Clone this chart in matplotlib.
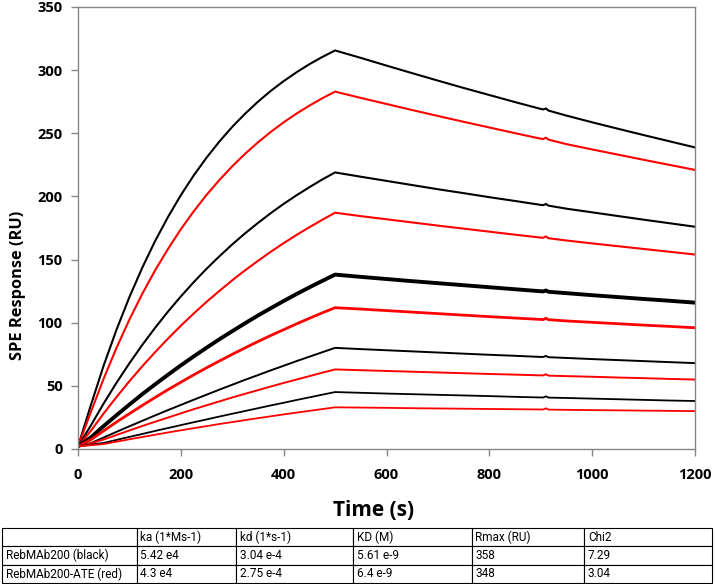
import matplotlib
matplotlib.use("Agg")
import matplotlib.pyplot as plt

# ---------------- data ----------------
time_s = [0, 25, 50, 75, 100, 125, 150, 175, 200, 225, 250, 275, 300, 325, 350, 375, 400, 425, 450, 475, 500,
          550, 600, 650, 700, 750, 800, 850, 900, 905, 910, 915, 950, 1000, 1050, 1100, 1150, 1200]

black_1 = [2, 34.7, 66.2, 94.6, 120.3, 143.6, 164.7, 183.7, 201.0, 216.6, 230.7, 243.5, 255.1, 265.5, 275.0, 283.6, 291.3, 298.3, 304.7, 310.4, 315.6,
           309.7, 303.6, 297.6, 291.7, 285.9, 280.3, 274.7, 269.3, 268.9, 269.7, 268.0, 264.0, 258.7, 253.6, 248.6, 243.7, 238.8]
black_2 = [2, 18.6, 36.1, 52.5, 67.9, 82.4, 96.0, 108.8, 120.8, 132.1, 142.7, 152.6, 162.0, 170.8, 179.0, 186.8, 194.1, 200.9, 207.3, 213.4, 219.0,
           215.6, 212.3, 209.0, 205.7, 202.6, 199.4, 196.4, 193.3, 193.1, 194.0, 192.7, 190.3, 187.4, 184.5, 181.6, 178.8, 176.0]
black_3 = [2, 9.2, 18.2, 26.8, 35.2, 43.4, 51.2, 58.8, 66.2, 73.3, 80.2, 86.9, 93.3, 99.6, 105.7, 111.5, 117.2, 122.7, 128.0, 133.1, 138.1,
           136.3, 134.6, 132.9, 131.3, 129.7, 128.1, 126.5, 124.9, 124.8, 125.5, 124.5, 123.4, 121.8, 120.3, 118.8, 117.4, 115.9]
black_4 = [2, 4.6, 9.1, 13.6, 18.0, 22.3, 26.6, 30.8, 34.9, 39.0, 43.0, 47.0, 50.9, 54.8, 58.5, 62.3, 65.9, 69.6, 73.1, 76.6, 80.1,
           79.1, 78.2, 77.3, 76.4, 75.5, 74.6, 73.8, 72.9, 72.9, 73.7, 72.7, 72.1, 71.2, 70.4, 69.6, 68.8, 68.0]
black_5 = [2, 3.5, 4.8, 7.2, 9.6, 11.9, 14.3, 16.6, 18.9, 21.2, 23.4, 25.7, 27.9, 30.1, 32.3, 34.5, 36.6, 38.8, 40.9, 43.0, 45.1,
           44.5, 43.9, 43.4, 42.9, 42.4, 41.9, 41.3, 40.8, 40.8, 41.7, 40.7, 40.4, 39.9, 39.4, 38.9, 38.4, 38.0]

red_1 = [2, 29.2, 55.8, 80.2, 102.5, 122.9, 141.5, 158.4, 174.0, 188.2, 201.2, 213.0, 223.9, 233.8, 242.8, 251.1, 258.7, 265.6, 271.9, 277.7, 283.0,
         278.0, 273.2, 268.4, 263.7, 259.1, 254.6, 250.1, 245.7, 245.5, 246.5, 245.0, 241.4, 237.2, 233.1, 229.0, 225.0, 221.0]
red_2 = [2, 14.4, 28.2, 41.2, 53.7, 65.5, 76.7, 87.4, 97.6, 107.3, 116.5, 125.2, 133.6, 141.5, 149.0, 156.2, 163.0, 169.5, 175.6, 181.5, 187.1,
         184.4, 181.9, 179.4, 176.9, 174.5, 172.1, 169.7, 167.4, 167.3, 168.3, 166.9, 165.1, 162.8, 160.6, 158.4, 156.2, 154.0]
red_3 = [2, 7.3, 14.4, 21.4, 28.0, 34.5, 40.8, 47.0, 52.9, 58.7, 64.3, 69.7, 75.0, 80.1, 85.1, 89.9, 94.5, 99.1, 103.5, 107.8, 111.9,
         110.8, 109.6, 108.4, 107.2, 106.0, 104.8, 103.7, 102.6, 102.5, 103.5, 102.4, 101.4, 100.3, 99.2, 98.1, 97.1, 96.0]
red_4 = [2, 4.5, 7.5, 11.1, 14.7, 18.2, 21.6, 24.9, 28.2, 31.5, 34.6, 37.7, 40.8, 43.7, 46.6, 49.5, 52.3, 55.0, 57.7, 60.4, 63.0,
         62.4, 61.8, 61.2, 60.6, 60.0, 59.4, 58.9, 58.3, 58.3, 59.2, 58.1, 57.7, 57.2, 56.6, 56.1, 55.5, 55.0]
red_5 = [2, 3.0, 3.9, 5.8, 7.7, 9.5, 11.3, 13.1, 14.8, 16.5, 18.1, 19.8, 21.3, 22.9, 24.4, 25.9, 27.4, 28.8, 30.2, 31.6, 33.0,
         32.8, 32.6, 32.3, 32.1, 31.9, 31.7, 31.5, 31.3, 31.3, 32.2, 31.2, 31.0, 30.8, 30.6, 30.4, 30.2, 30.0]

black_curves = [black_1, black_2, black_3, black_4, black_5]
red_curves = [red_1, red_2, red_3, red_4, red_5]

x_ticks = [0, 200, 400, 600, 800, 1000, 1200]
y_ticks = [0, 50, 100, 150, 200, 250, 300, 350]

table_header = ["", "ka (1*Ms-1)", "kd (1*s-1)", "KD (M)", "Rmax (RU)", "Chi2"]
table_row_black = ["RebMAb200 (black)", "5.42 e4", "3.04 e-4", "5.61 e-9", "358", "7.29"]
table_row_red = ["RebMAb200-ATE (red)", "4.3 e4", "2.75 e-4", "6.4 e-9", "348", "3.04"]

# ---------------- figure ----------------
W, H = 715, 584
fig = plt.figure(figsize=(W / 100, H / 100), dpi=100)
ax = fig.add_axes([78 / W, 1 - 449 / H, (695 - 78) / W, (449 - 7) / H])

black_widths = [1.5, 1.5, 2.8, 1.4, 1.3]
red_widths = [1.5, 1.5, 2.0, 1.4, 1.3]
for i in range(5):
    ax.plot(time_s, black_curves[i], color="#000000", lw=black_widths[i], solid_joinstyle="round")
    ax.plot(time_s, red_curves[i], color="#ff0000", lw=red_widths[i], solid_joinstyle="round")

ax.set_xlim(0, 1200)
ax.set_ylim(0, 350)
ax.set_xticks(x_ticks)
ax.set_yticks(y_ticks)

tick_font = dict(family="Open Sans", weight="bold", size=10.5)
ax.set_xticklabels([str(v) for v in x_ticks], fontdict=tick_font)
ax.set_yticklabels([str(v) for v in y_ticks], fontdict=tick_font)

grey = "#868686"
for s in ax.spines.values():
    s.set_color(grey)
    s.set_linewidth(1.0)
ax.tick_params(axis="both", direction="out", length=5, width=1.0, color=grey, pad=6)
ax.tick_params(axis="x", pad=9)

fig.text(18.5 / W, 1 - 285.5 / H, "SPE Response (RU)", family="Open Sans", weight="bold",
         size=11.8, rotation=90, ha="center", va="center")
fig.text(374 / W, 1 - 511 / H, "Time (s)", family="Open Sans", weight="bold",
         size=15, ha="center", va="center")

# ---------------- table ----------------
tx0, tx1 = 2, 712
ty0, ty1 = 528, 583
tab_ax = fig.add_axes([tx0 / W, 1 - ty1 / H, (tx1 - tx0) / W, (ty1 - ty0) / H])
tab_ax.axis("off")
col_edges = [2, 137, 236, 353, 472, 584, 712]
col_widths = [(col_edges[i + 1] - col_edges[i]) / (tx1 - tx0) for i in range(6)]
tbl = tab_ax.table(cellText=[table_header, table_row_black, table_row_red],
                   colWidths=col_widths, cellLoc="left", bbox=[0, 0, 1, 1])
tbl.auto_set_font_size(False)
for (r, c), cell in tbl.get_celld().items():
    cell.set_edgecolor("black")
    cell.set_linewidth(0.8)
    cell.PAD = 0.03
    cell.get_text().set_fontsize(8.5)
    cell.get_text().set_family("Roboto")

fig.savefig("out.png", dpi=100)
